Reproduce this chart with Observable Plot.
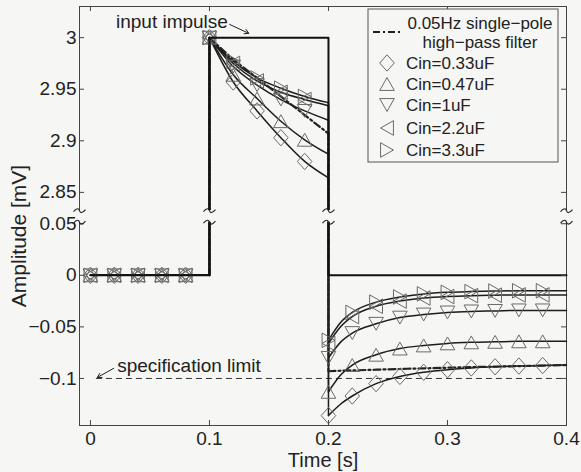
<!DOCTYPE html>
<html><head><meta charset="utf-8">
<script src="https://cdn.jsdelivr.net/npm/d3@7"></script>
<script src="https://cdn.jsdelivr.net/npm/@observablehq/plot@0.6"></script>
<style>
html,body{margin:0;padding:0;background:#f6f6f4;}
#chart{width:581px;height:472px;}
</style></head><body><div id="chart"></div>
<script>
// ---------- data ----------
const seriesNames = ["0.33uF", "0.47uF", "1uF", "2.2uF", "3.3uF"];
const legendLabels = ["Cin=0.33uF", "Cin=0.47uF", "Cin=1uF", "Cin=2.2uF", "Cin=3.3uF"];
const filterLabel = ["0.05Hz single\u2212pole", "high\u2212pass filter"];

const tTop = [0.1, 0.12, 0.14, 0.16, 0.18, 0.2];          // during the impulse
const tBot = [0.2, 0.21, 0.22, 0.24, 0.26, 0.28, 0.30, 0.32, 0.34, 0.36, 0.38, 0.40]; // after the impulse
const markerTimes = [0, 0.02, 0.04, 0.06, 0.08, 0.1, 0.12, 0.14, 0.16, 0.18, 0.2, 0.22, 0.24, 0.26, 0.28, 0.3, 0.32, 0.34, 0.36, 0.38];

const top033 = [3, 2.957, 2.929, 2.903, 2.880, 2.864];
const bot033 = [-0.136, -0.125, -0.117, -0.105, -0.098, -0.094, -0.0915, -0.0898, -0.0887, -0.088, -0.0875, -0.087];
const top047 = [3, 2.964, 2.941, 2.919, 2.901, 2.887];
const bot047 = [-0.113, -0.097, -0.087, -0.077, -0.071, -0.068, -0.066, -0.065, -0.0645, -0.064, -0.064, -0.064];
const top1 = [3, 2.972, 2.954, 2.940, 2.929, 2.920];
const bot1 = [-0.080, -0.065, -0.056, -0.047, -0.041, -0.038, -0.036, -0.035, -0.0345, -0.034, -0.034, -0.034];
const top22 = [3, 2.975, 2.958, 2.947, 2.940, 2.934];
const bot22 = [-0.066, -0.050, -0.040, -0.030, -0.025, -0.022, -0.0205, -0.0197, -0.0193, -0.019, -0.019, -0.019];
const top33 = [3, 2.977, 2.961, 2.951, 2.943, 2.937];
const bot33 = [-0.063, -0.046, -0.036, -0.026, -0.021, -0.018, -0.0165, -0.0158, -0.0153, -0.015, -0.015, -0.015];
const filterTop = [3, 2.979, 2.961, 2.943, 2.925, 2.907];
const filterBot = [-0.093, -0.0925, -0.0922, -0.0915, -0.0908, -0.0902, -0.0896, -0.089, -0.0885, -0.088, -0.0875, -0.087];

const impulseT = [0, 0.1, 0.1, 0.2, 0.2, 0.4];
const impulseV = [0, 0, 3, 3, 0, 0];
const specLimit = -0.1;
const specStart = 0.005;

const xTicks = [0, 0.1, 0.2, 0.3, 0.4];
const yTicks = [-0.1, -0.05, 0, 0.05, 2.85, 2.9, 2.95, 3];
const xDomain = [-0.0092, 0.4];
// broken y axis: lower section [-0.1456, 0.054], upper section [2.8323, 3.0302]
const lowMax = 0.054, highMin = 2.8323, yMin = -0.1456, yMax = 3.0302;
const gapSize = 0.0087;                      // size of the axis break, in lower-section units
const yOffset = highMin - lowMax - gapSize;  // upper section is shifted down by this
const yb = v => (v > 1 ? v - yOffset : v);   // value -> broken-axis coordinate
const ybInv = u => (u > lowMax + gapSize / 2 ? u + yOffset : u);
const breakXs = [xDomain[0], 0.1, 0.2, 0.4];

const impulseNote = [{text: "input impulse", t: 0.1155, v: 3.0157, x1: 0.1170, y1: 3.0128, x2: 0.1330, y2: 3.0042}];
const specNote = [{text: "specification limit", t: 0.0225, v: -0.0875, x1: 0.0195, y1: -0.0902, x2: 0.0058, y2: -0.0990}];

// ---------- symbols ----------
const rad = s => Math.sqrt(s / Math.PI);
const symDiamond = {draw(c, s) { const r = rad(s); c.moveTo(0, -1.12 * r); c.lineTo(r, 0); c.lineTo(0, 1.12 * r); c.lineTo(-r, 0); c.closePath(); }};
const symUp = {draw(c, s) { const r = rad(s); c.moveTo(0, -0.88 * r); c.lineTo(r, 0.88 * r); c.lineTo(-r, 0.88 * r); c.closePath(); }};
const symDown = {draw(c, s) { const r = rad(s); c.moveTo(0, 0.88 * r); c.lineTo(r, -0.88 * r); c.lineTo(-r, -0.88 * r); c.closePath(); }};
const symLeft = {draw(c, s) { const r = rad(s); c.moveTo(-0.88 * r, 0); c.lineTo(0.88 * r, -r); c.lineTo(0.88 * r, r); c.closePath(); }};
const symRight = {draw(c, s) { const r = rad(s); c.moveTo(0.88 * r, 0); c.lineTo(-0.88 * r, -r); c.lineTo(-0.88 * r, r); c.closePath(); }};
const symbols = [symDiamond, symUp, symDown, symLeft, symRight];
// axis-break squiggle
const symTilde = {draw(c, s) { const r = rad(s); c.moveTo(-r, 1); c.bezierCurveTo(-r * 0.45, -3, -r * 0.1, -2.5, 0, 0); c.bezierCurveTo(r * 0.1, 2.5, r * 0.45, 3, r, -1); }};

// ---------- build rows ----------
const tops = [top033, top047, top1, top22, top33];
const bots = [bot033, bot047, bot1, bot22, bot33];
const curveRows = [], jumpRows = [];
function addSeries(name, top, bot) {
  tTop.forEach((t, i) => curveRows.push({s: name, seg: "a", t, v: top[i]}));
  tBot.forEach((t, i) => curveRows.push({s: name, seg: "b", t, v: bot[i]}));
  jumpRows.push({s: name, seg: "p", t: 0, v: 0}, {s: name, seg: "p", t: 0.1, v: 0}, {s: name, seg: "p", t: 0.1, v: top[0]});
  jumpRows.push({s: name, seg: "q", t: 0.2, v: top[top.length - 1]}, {s: name, seg: "q", t: 0.2, v: bot[0]});
}
seriesNames.forEach((n, k) => addSeries(n, tops[k], bots[k]));
const filterCurve = [], filterJump = [];
tTop.forEach((t, i) => filterCurve.push({seg: "a", t, v: filterTop[i]}));
tBot.forEach((t, i) => filterCurve.push({seg: "b", t, v: filterBot[i]}));
filterJump.push({seg: "p", t: 0.1, v: 0}, {seg: "p", t: 0.1, v: filterTop[0]});
filterJump.push({seg: "q", t: 0.2, v: filterTop[filterTop.length - 1]}, {seg: "q", t: 0.2, v: filterBot[0]});

function markerRows(k) {
  return markerTimes.map(t => {
    let v;
    if (t < 0.099) v = 0;
    else if (t < 0.199) v = tops[k][tTop.findIndex(x => Math.abs(x - t) < 1e-9)];
    else v = bots[k][tBot.findIndex(x => Math.abs(x - t) < 1e-9)];
    return {t, v};
  });
}
const impulseRows = impulseT.map((t, i) => ({t, v: impulseV[i]}));
const breakRows = [];
breakXs.forEach(x => [lowMax - 0.0025, highMin].forEach(y => breakRows.push({x, y})));

const BG = "#f6f6f4", INK = "#1c1c1c", MARK = "#6a6a6a";
const R = 7.3;
const fmt = u => { const v = +ybInv(u).toFixed(3); return String(v).replace("-", "\u2212"); };
const Y = d => yb(d.v);

const marks = [
  Plot.frame({stroke: "#444", strokeWidth: 1}),
  Plot.ruleY([specLimit], {y: yb, x1: specStart, x2: 0.4, stroke: "#333", strokeWidth: 1, strokeDasharray: "6,4"}),
  Plot.line(curveRows, {x: "t", y: Y, z: d => d.s + d.seg, curve: "monotone-x", stroke: INK, strokeWidth: 1.5}),
  Plot.line(jumpRows, {x: "t", y: Y, z: d => d.s + d.seg, stroke: INK, strokeWidth: 1.5}),
  Plot.line(filterCurve, {x: "t", y: Y, z: "seg", curve: "monotone-x", stroke: "#222", strokeWidth: 2.2, strokeDasharray: "7,3,2,3"}),
  Plot.line(filterJump, {x: "t", y: Y, z: "seg", stroke: "#222", strokeWidth: 2.2, strokeDasharray: "7,3,2,3"}),
  ...seriesNames.map((n, k) => Plot.dot(markerRows(k), {x: "t", y: Y, symbol: symbols[k], r: R, stroke: MARK, strokeWidth: 1, fill: "none"})),
  Plot.line(impulseRows, {x: "t", y: Y, stroke: "#111", strokeWidth: 2}),
  Plot.tickY(yTicks, {y: yb, insetRight: 482, stroke: "#444"}),
  Plot.tickY(yTicks, {y: yb, insetLeft: 482, stroke: "#444"}),
  Plot.tickX(xTicks, {x: d => d, insetTop: 414, stroke: "#444"}),
  Plot.tickX(xTicks, {x: d => d, insetBottom: 414, stroke: "#444"}),
  Plot.rect([0], {x1: xDomain[0], x2: xDomain[1], y1: () => lowMax - 0.0025, y2: () => yb(highMin), fill: BG, insetLeft: -3, insetRight: -3}),
  Plot.dot(breakRows, {x: "x", y: d => yb(d.y), symbol: symTilde, r: 6, stroke: "#222", strokeWidth: 1.1, fill: "none"}),
  Plot.text(impulseNote, {x: "t", y: d => yb(d.v), text: "text", textAnchor: "end", fontSize: 19, fill: "#222"}),
  Plot.text(specNote, {x: "t", y: d => yb(d.v), text: "text", textAnchor: "start", fontSize: 19, fill: "#222"}),
  Plot.arrow([...impulseNote, ...specNote], {x1: "x1", y1: d => yb(d.y1), x2: "x2", y2: d => yb(d.y2), stroke: "#222", strokeWidth: 1, headLength: 7}),
  Plot.axisX({ticks: xTicks, tickSize: 0, tickPadding: 6, fontSize: 19, label: null, tickFormat: d => String(d)}),
  Plot.axisY({ticks: yTicks.map(yb), tickSize: 0, tickPadding: 3, fontSize: 19, label: null, tickFormat: fmt}),
  Plot.text(["Time [s]"], {frameAnchor: "bottom", lineAnchor: "middle", dy: 35, fontSize: 20, fill: "#222"})
];

const svg = Plot.plot({
  width: 581, height: 472,
  marginLeft: 79, marginRight: 15, marginTop: 6, marginBottom: 47,
  x: {domain: xDomain},
  y: {domain: [yMin, yb(yMax)]},
  style: {fontFamily: "'Liberation Sans', Arial, Helvetica, sans-serif", background: BG, color: "#222", overflow: "visible"},
  marks
});

const FONT = "'Liberation Sans', Arial, Helvetica, sans-serif";
// y axis title
d3.select(svg).append("text").attr("transform", "translate(18.5,236) rotate(-90)").attr("dy", "0.35em")
  .attr("text-anchor", "middle").attr("font-family", FONT).attr("font-size", 21).attr("fill", "#222").text("Amplitude [mV]");

// ---------- legend (inside plot, top-right) ----------
const lg = d3.select(svg).append("g").attr("font-family", FONT);
lg.append("rect").attr("x", 368).attr("y", 9).attr("width", 190).attr("height", 153)
  .attr("fill", BG).attr("stroke", "#555").attr("stroke-width", 1);
lg.append("line").attr("x1", 373).attr("x2", 403).attr("y1", 32).attr("y2", 32)
  .attr("stroke", "#222").attr("stroke-width", 2.2).attr("stroke-dasharray", "7,3,2,3");
filterLabel.forEach((s, i) => lg.append("text").attr("x", 480).attr("y", 23 + 19 * i).attr("dy", "0.35em")
  .attr("text-anchor", "middle").attr("font-size", 17).attr("fill", "#222").text(s));
const legendY = [63, 84, 105, 128, 150];
legendLabels.forEach((s, k) => {
  lg.append("path").attr("transform", `translate(387,${legendY[k]})`)
    .attr("d", d3.symbol().type(symbols[k]).size(Math.PI * R * R)())
    .attr("fill", "none").attr("stroke", MARK).attr("stroke-width", 1);
  lg.append("text").attr("x", 406).attr("y", legendY[k]).attr("dy", "0.35em")
    .attr("text-anchor", "start").attr("font-size", 17).attr("fill", "#222").text(s);
});

document.getElementById("chart").append(svg);
</script></body></html>
